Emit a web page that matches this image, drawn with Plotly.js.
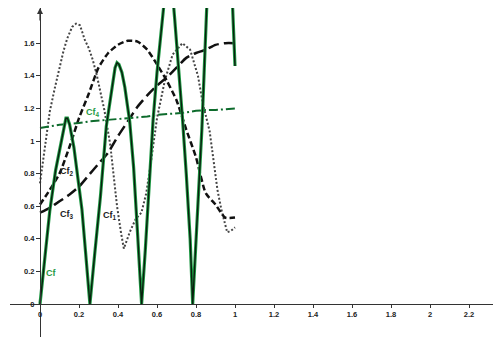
<!DOCTYPE html>
<html><head><meta charset="utf-8">
<script src="https://cdn.plot.ly/plotly-3.0.1.min.js"></script>
<style>html,body{margin:0;padding:0;background:#fff}#chart{width:493px;height:337px}</style>
</head><body><div id="chart"></div>
<script>
// Cf (solid, green with dark core)
const cfX = [0,0.025,0.05,0.08,0.11,0.125,0.133,0.141,0.152,0.174,0.195,0.215,0.235,0.256,
  0.28,0.31,0.34,0.37,0.385,0.395,0.405,0.42,0.435,0.46,0.48,0.50,0.521,
  0.54,0.56,0.58,0.60,0.625,0.645,0.66,0.675,0.69,0.71,0.73,0.75,0.77,0.783,
  0.80,0.83,0.855,0.88,0.91,0.94,0.96,0.98,1.0];
const cfY = [0,0.28,0.57,0.82,1.0,1.1,1.14,1.14,1.1,0.96,0.78,0.58,0.3,0,
  0.3,0.66,1.09,1.35,1.45,1.48,1.47,1.42,1.33,1.12,0.84,0.44,0,
  0.33,0.74,1.13,1.42,1.74,1.95,2.02,1.97,1.76,1.47,1.15,0.8,0.4,0,
  0.4,1.07,1.82,2.35,2.7,2.8,2.55,2.05,1.46];
// Cf1 (dotted)
const cf1X = [0,0.025,0.05,0.075,0.1,0.12,0.14,0.165,0.185,0.205,0.23,0.25,0.27,0.29,0.31,0.33,0.36,0.375,0.395,0.415,0.43,
  0.46,0.49,0.52,0.545,0.57,0.6,0.64,0.68,0.73,0.77,0.81,0.835,0.87,0.89,0.91,0.93,0.95,0.96,0.98,1.0];
const cf1Y = [0.74,0.97,1.18,1.32,1.45,1.55,1.63,1.7,1.72,1.71,1.62,1.57,1.5,1.41,1.3,1.19,0.98,0.8,0.6,0.44,0.34,
  0.44,0.52,0.56,0.68,0.88,1.14,1.37,1.53,1.6,1.56,1.4,1.23,1.06,0.87,0.7,0.58,0.48,0.44,0.45,0.47];
// Cf2, Cf3, Cf4 on a common grid
const gridX = [0,0.05,0.1,0.15,0.2,0.25,0.3,0.35,0.4,0.45,0.5,0.55,0.6,0.65,0.7,0.75,0.8,0.85,0.9,0.95,1.0];
const cf2Y = [0.61,0.70,0.80,0.96,1.14,1.29,1.45,1.54,1.59,1.615,1.61,1.56,1.47,1.37,1.25,1.07,0.9,0.68,0.61,0.53,0.53];
const cf3Y = [0.56,0.59,0.63,0.67,0.72,0.79,0.86,0.93,1.03,1.12,1.21,1.28,1.34,1.39,1.45,1.51,1.54,1.56,1.59,1.6,1.6];
const cf4Y = [1.08,1.09,1.1,1.105,1.11,1.12,1.125,1.13,1.135,1.14,1.145,1.15,1.16,1.165,1.17,1.175,1.185,1.19,1.19,1.195,1.2];
const xTicks = [0,0.2,0.4,0.6,0.8,1,1.2,1.4,1.6,1.8,2,2.2];
const xTickText = ['0','0.2','0.4','0.6','0.8','1','1.2','1.4','1.6','1.8','2','2.2'];
const yTicks = [0,0.2,0.4,0.6,0.8,1,1.2,1.4,1.6];
const yTickText = ['0','0.2','0.4','0.6','0.8','1','1.2','1.4','1.6'];

const W = 493, H = 337;
const green = '#1f9a45', dgreen = '#0d6b2c';
const traces = [
  {x: cf1X, y: cf1Y, mode: 'lines', line: {color: '#444', width: 2, dash: '2px,2px'}},
  {x: gridX, y: cf2Y, mode: 'lines', line: {color: '#111', width: 2.5, dash: '6px,3px', shape: 'spline', smoothing: 0.6}},
  {x: gridX, y: cf3Y, mode: 'lines', line: {color: '#111', width: 2.5, dash: '11px,5px', shape: 'spline', smoothing: 0.6}},
  {x: gridX, y: cf4Y, mode: 'lines', line: {color: dgreen, width: 2, dash: '9px,3px,2px,3px'}},
  {x: cfX, y: cfY, mode: 'lines', line: {color: green, width: 3.2}},
  {x: cfX, y: cfY, mode: 'lines', line: {color: '#0a1f0e', width: 1.4}}
];
const tf = {family: 'Liberation Sans, Arial, sans-serif', size: 7.5, color: '#222', weight: 'bold'};
const lf = {family: 'Liberation Sans, Arial, sans-serif', size: 9, color: '#222', weight: 'bold'};
const lfg = Object.assign({}, lf, {color: green});
const layout = {
  width: W, height: H, margin: {l: 0, r: 0, t: 0, b: 0},
  paper_bgcolor: '#fff', plot_bgcolor: '#fff', showlegend: false,
  xaxis: {domain: [10 / W, 1], range: [-30 / 195, 453 / 195], anchor: 'free', position: 33 / H,
    showgrid: false, zeroline: false, showline: true, linecolor: '#333', linewidth: 1.2,
    ticks: 'outside', ticklen: 3, tickcolor: '#333', tickvals: xTicks, ticktext: xTickText, tickfont: tf},
  yaxis: {domain: [0, 329 / H], range: [-33 / 163, 296 / 163], anchor: 'free', position: 40 / W,
    showgrid: false, zeroline: false, showline: true, linecolor: '#333', linewidth: 1.2,
    ticks: 'outside', ticklen: 4, tickcolor: '#333', tickvals: yTicks, ticktext: yTickText, tickfont: tf},
  annotations: [
    {x: 0, y: 296 / 163, xref: 'x', yref: 'y', text: '', showarrow: true, arrowhead: 2, arrowsize: 1, arrowwidth: 1.2, arrowcolor: '#333', ax: 0, ay: 14},
    {x: 0.058, y: 0.19, text: 'Cf', showarrow: false, font: lfg},
    {x: 0.36, y: 0.54, text: 'Cf<sub>1</sub>', showarrow: false, font: lf},
    {x: 0.14, y: 0.81, text: 'Cf<sub>2</sub>', showarrow: false, font: lf},
    {x: 0.14, y: 0.55, text: 'Cf<sub>3</sub>', showarrow: false, font: lf},
    {x: 0.27, y: 1.175, text: 'Cf<sub>4</sub>', showarrow: false, font: lfg}
  ]
};
Plotly.newPlot('chart', traces, layout, {staticPlot: true, displayModeBar: false});
</script></body></html>
